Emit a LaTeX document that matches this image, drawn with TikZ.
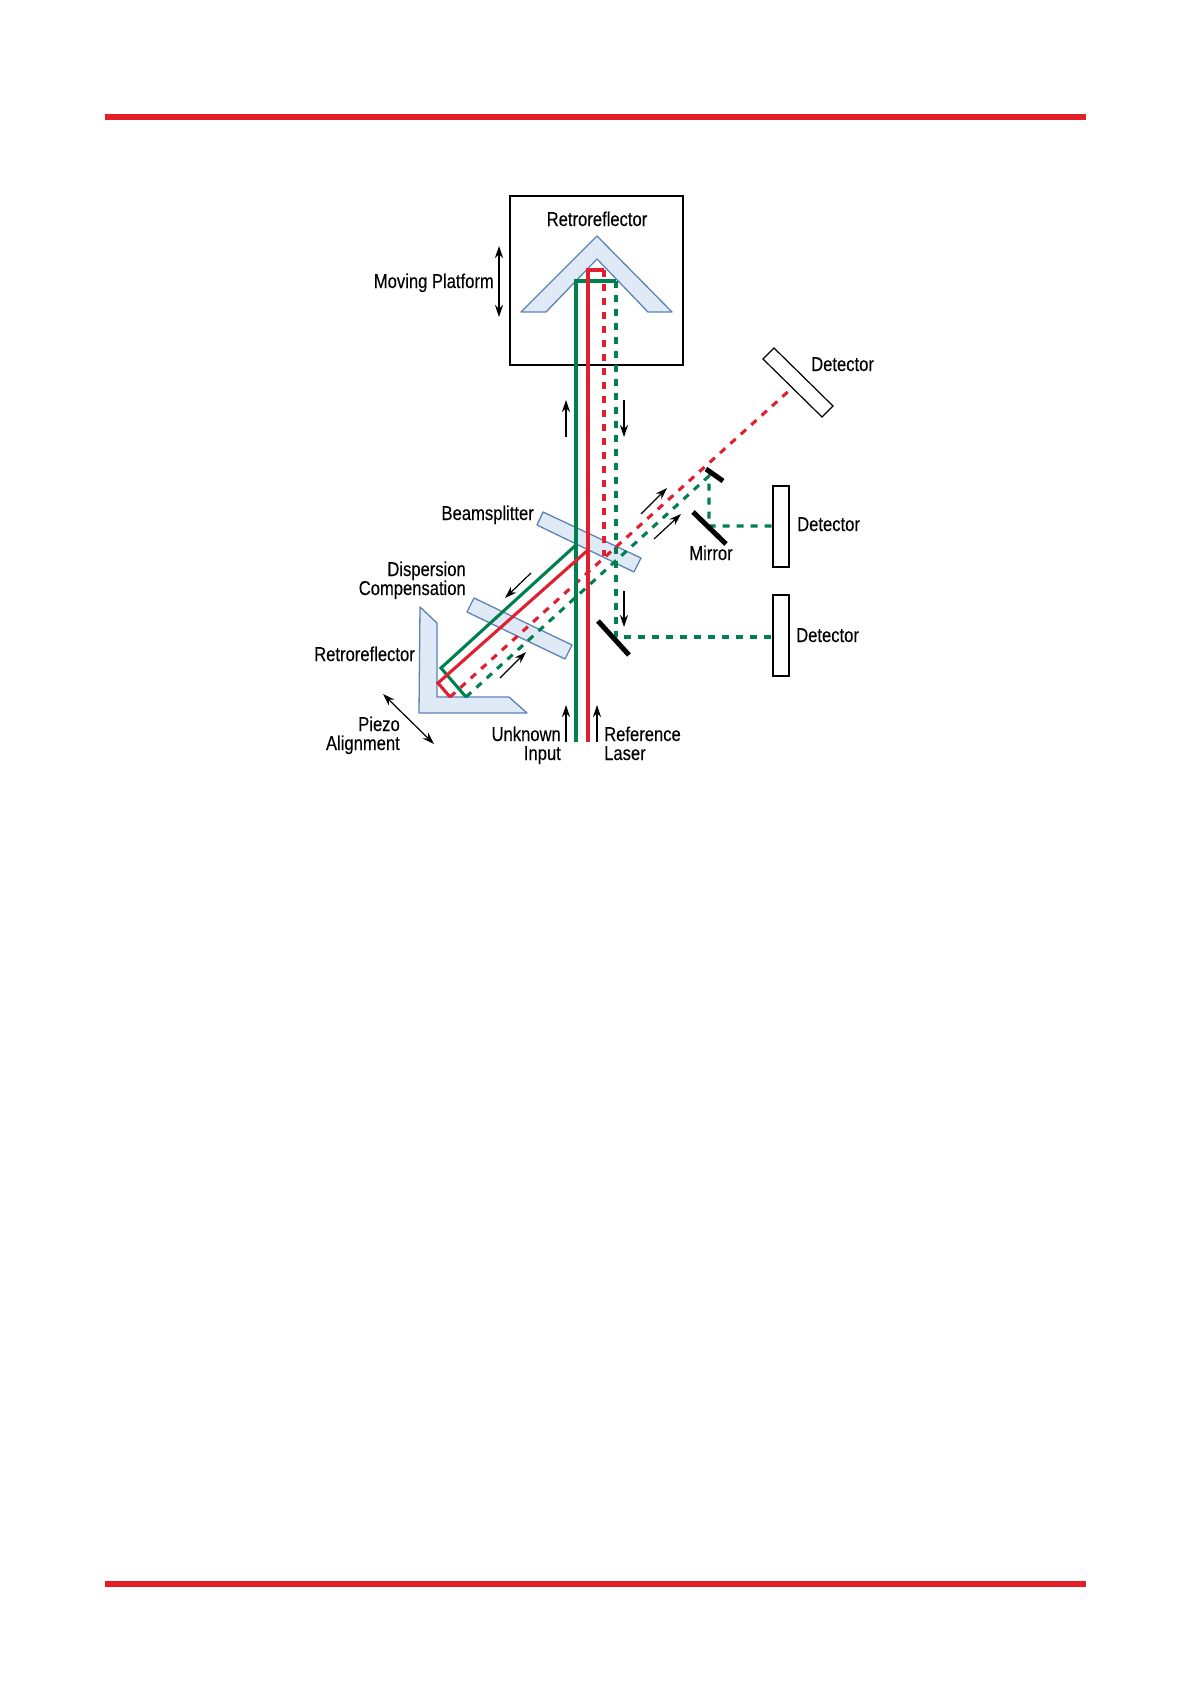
\documentclass[tikz,border=0pt]{standalone}
\usepackage{fontspec}
\setmainfont{Liberation Sans}[FakeStretch=0.83,FakeBold=0.12]
\usetikzlibrary{arrows.meta}
\definecolor{barred}{HTML}{E31E26}
\definecolor{beamred}{HTML}{E0202F}
\definecolor{beamgreen}{HTML}{007F4F}
\definecolor{optfill}{HTML}{DFEAF6}
\definecolor{optline}{HTML}{5B83B9}
\tikzset{
  bar/.style={fill=barred,draw=none},
  optic/.style={fill=optfill,draw=optline,line width=1.3pt,line join=round},
  blackbox/.style={draw=black,fill=white,line width=1.2pt},
  mirrorbar/.style={draw=black,line width=5pt},
  redsolid/.style={draw=beamred,line width=3.1pt},
  greensolid/.style={draw=beamgreen,line width=3.1pt},
  reddash/.style={draw=beamred,line width=3.1pt,dash pattern=on 7pt off 7pt},
  greendash/.style={draw=beamgreen,line width=3.1pt,dash pattern=on 7pt off 7pt},
  flow/.style={draw=black,line width=1.2pt,-{Stealth[length=12pt,width=8pt]}},
  flowboth/.style={draw=black,line width=1.2pt,{Stealth[length=12pt,width=8pt]}-{Stealth[length=12pt,width=8pt]}},
  lab/.style={font=\fontsize{20}{20}\selectfont,inner sep=0pt,text=black},
}
\begin{document}
\begin{tikzpicture}[x=1pt,y=-1pt]
\useasboundingbox (0,0) rectangle (1191,1684);
\fill[white] (0,0) rectangle (1191,1684);
% page bars
\fill[bar] (105,114) rectangle (1086,120);
\fill[bar] (105,1581) rectangle (1086,1587);
% housing
\draw[blackbox] (510,196) rectangle (683,365);
% optics
\draw[optic] (597,236) -- (672,312) -- (648,312) -- (597,259) -- (546,312) -- (521,312) -- cycle;
\draw[optic] (543,512) -- (641,558) -- (634,572) -- (537,525) -- cycle;
\draw[optic] (474,598) -- (572,645) -- (565,659) -- (467,612) -- cycle;
\draw[optic] (420,607) -- (437,623) -- (437,697) -- (509,697) -- (527,713) -- (419,713) -- cycle;
% detectors
\draw[blackbox] (774,348) -- (833,406) -- (822,417) -- (763,359) -- cycle;
\draw[blackbox] (773,486) rectangle (789,567);
\draw[blackbox] (773,595) rectangle (789,676);
% dashed beams
\draw[reddash] (604,270) -- (604,556);
\draw[greendash] (616,281) -- (616,637) -- (773,637);
\draw[reddash] (450,697) -- (792,388);
\draw[greendash] (466,697) -- (709,476) -- (709,526) -- (773,526);
% solid beams
\draw[greensolid,line join=miter] (576,742) -- (576,281) -- (616,281);
\draw[redsolid,line join=miter] (588,742) -- (588,270) -- (604,270);
\draw[greensolid,line join=miter] (576,545) -- (441,668) -- (466,697);
\draw[redsolid,line join=miter] (588,550) -- (438,683) -- (450,697);
% mirrors
\draw[mirrorbar] (706,469) -- (723,481);
\draw[mirrorbar] (693,512) -- (726,544);
\draw[mirrorbar] (598,621) -- (629,655);
% arrows
\draw[flowboth] (499,246) -- (499,317);
\draw[flow] (566,437) -- (566,400);
\draw[flow] (624,400) -- (624,437);
\draw[flow] (531,573) -- (505,598);
\draw[flow] (500,678) -- (526,652);
\draw[flowboth] (383,694) -- (434,744);
\draw[flow] (566,742) -- (566,705);
\draw[flow] (597,742) -- (597,705);
\draw[flow] (641,514) -- (667,488);
\draw[flow] (654,539) -- (681,514);
\draw[flow] (624,591) -- (624,627);
% labels
\node[lab,anchor=base] (retrotop) at (597,226) {Retroreflector};
\node[lab,anchor=base east] (platform) at (494,288) {Moving Platform};
\node[lab,anchor=base west] (det1) at (811,371) {Detector};
\node[lab,anchor=base west] (det2) at (797,531) {Detector};
\node[lab,anchor=base west] (det3) at (796,642) {Detector};
\node[lab,anchor=base east] (bs) at (534,520) {Beamsplitter};
\node[lab,anchor=base east] (disp) at (466,576) {Dispersion};
\node[lab,anchor=base east] (comp) at (466,595) {Compensation};
\node[lab,anchor=base east] (retroleft) at (415,661) {Retroreflector};
\node[lab,anchor=base east] (piezo) at (400,731) {Piezo};
\node[lab,anchor=base east] (align) at (400,750) {Alignment};
\node[lab,anchor=base east] (unk) at (561,741) {Unknown};
\node[lab,anchor=base east] (inp) at (561,760) {Input};
\node[lab,anchor=base west] (ref) at (604,741) {Reference};
\node[lab,anchor=base west] (laser) at (604,760) {Laser};
\node[lab,anchor=base] (mirror) at (711,560) {Mirror};
\end{tikzpicture}
\end{document}
